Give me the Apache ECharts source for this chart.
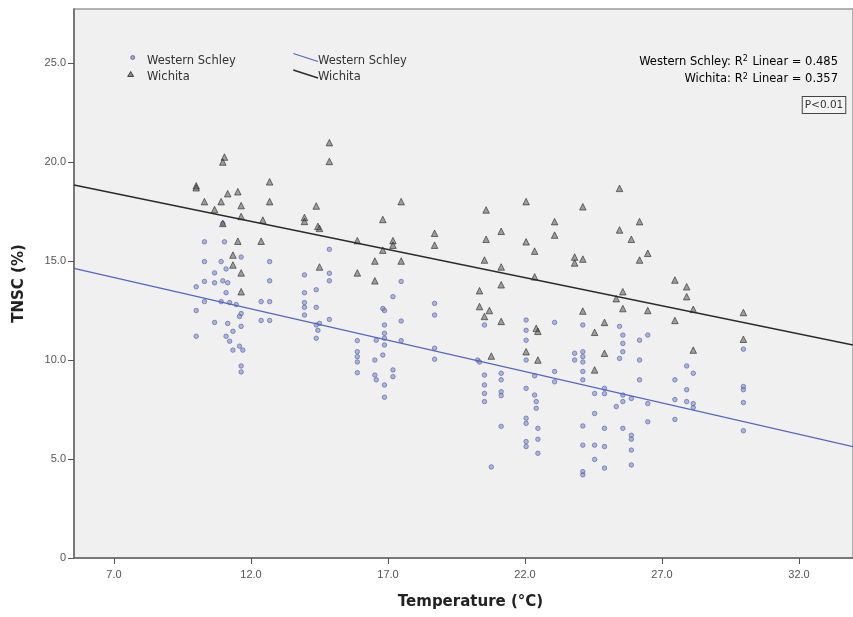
<!DOCTYPE html>
<html>
<head>
<meta charset="utf-8">
<script src="https://cdn.jsdelivr.net/npm/echarts@6/dist/echarts.min.js"></script>
<style>html,body{margin:0;padding:0;background:#fff}#c{width:853px;height:617px}</style>
</head>
<body>
<div id="c"></div>
<script>
// Western Schley: [temperature °C, TNSC %]
const westernSchley = [
 [10.30,15.97],[11.03,15.97],[11.64,15.2],[10.30,14.97],[10.91,14.97],[12.68,14.97],[10.67,14.4],[11.09,14.6],
 [10.00,13.7],[10.30,13.97],[10.67,13.9],[10.97,14.0],[11.15,13.9],[12.68,14.0],[11.09,13.4],[10.30,12.95],
 [10.91,12.95],[11.22,12.9],[11.46,12.8],[12.37,12.95],[12.68,12.95],[10.00,12.5],[11.58,12.2],[11.64,12.35],
 [12.37,12.0],[12.68,12.0],[10.67,11.9],[11.15,11.85],[11.64,11.7],[11.34,11.45],[10.00,11.2],[11.09,11.2],
 [11.22,10.95],[11.58,10.7],[11.70,10.5],[11.34,10.5],[11.64,9.7],[11.64,9.4],[10.97,16.9],
 [14.86,15.59],[13.95,14.3],[14.86,14.38],[14.86,14.0],[14.38,13.55],[13.95,13.4],[13.95,12.9],[13.95,12.66],
 [13.95,12.27],[14.38,12.66],[14.86,12.05],[14.38,11.77],[14.5,11.85],[14.44,11.5],[14.38,11.1],[17.48,13.97],
 [17.18,13.2],[16.81,12.6],[16.87,12.5],[18.70,12.86],[18.70,12.27],[17.48,11.97],[16.87,11.77],[16.87,11.35],
 [16.87,11.1],[16.57,11.0],[17.48,10.98],[15.88,10.98],[16.87,10.76],[18.70,10.6],[18.70,10.04],[15.88,10.42],
 [15.88,10.17],[15.88,9.9],[15.88,9.36],[16.52,10.0],[16.81,10.25],[16.52,9.24],[16.57,9.0],[17.18,9.5],
 [17.18,9.16],[16.87,8.74],[16.87,8.12],[20.27,10.0],
 [20.52,11.77],[24.11,11.77],[25.45,11.7],[25.57,11.26],[25.57,10.84],[25.57,10.42],[25.45,10.08],[26.48,11.26],
 [26.18,11.0],[26.18,10.0],[26.18,9.0],[22.04,12.02],[22.04,11.5],[23.08,11.9],[22.04,11.0],[22.04,10.0],
 [22.35,9.2],[22.04,8.57],[22.35,8.23],[22.41,7.9],[22.41,7.56],[22.04,7.06],[22.04,6.8],[22.47,6.55],
 [22.47,6.0],[22.04,5.88],[22.04,5.63],[22.47,5.29],[23.81,10.34],[23.81,10.0],[24.11,10.42],[24.11,10.17],
 [24.11,9.9],[24.11,9.42],[24.11,9.0],[23.08,9.42],[23.08,8.9],[24.54,8.31],[24.90,8.57],[24.90,8.3],
 [25.33,7.65],[25.57,7.9],[25.57,8.23],[25.88,8.06],[26.48,7.8],[26.48,6.88],[24.54,7.3],[24.11,6.67],
 [24.11,5.7],[24.54,5.7],[24.54,4.98],[24.90,6.55],[24.90,5.63],[24.90,4.54],[24.11,4.36],[24.11,4.2],
 [25.57,6.55],[25.88,6.2],[25.88,6.0],[25.88,5.45],[25.88,4.7],[21.13,6.65],[20.77,4.6],[20.34,9.9],
 [20.52,9.24],[20.52,8.74],[20.52,8.31],[20.52,7.9],[21.13,9.33],[21.13,9.0],[21.13,8.4],[21.13,8.2],
 [29.97,10.55],[27.9,9.7],[28.14,9.33],[27.47,9.0],[27.9,8.5],[27.47,8.0],[27.9,7.9],[28.14,7.8],
 [28.14,7.6],[27.47,7.0],[29.97,8.66],[29.97,8.5],[29.97,7.85],[29.97,6.43]
];
// Wichita: [temperature °C, TNSC %]
const wichita = [
 [11.03,20.25],[10.97,20.0],[10.00,18.8],[10.00,18.7],[12.68,19.0],[12.68,18.0],[11.52,18.5],[11.15,18.4],
 [10.30,18.0],[10.91,18.0],[10.67,17.6],[11.64,17.8],[11.64,17.25],[12.43,17.07],[10.97,16.9],[11.52,16.0],
 [12.37,16.0],[11.34,15.3],[11.34,14.8],[11.64,14.4],[11.64,13.45],
 [14.86,20.98],[14.86,20.03],[14.38,17.78],[13.95,17.2],[13.95,17.0],[14.44,16.75],[14.5,16.65],[17.48,18.0],
 [16.81,17.1],[17.18,16.03],[17.18,15.8],[16.81,15.55],[15.88,16.03],[18.70,16.4],[18.70,15.8],[14.50,14.7],
 [15.88,14.4],[16.52,15.0],[17.48,15.0],[16.52,14.0],
 [25.45,18.67],[22.04,18.0],[20.58,17.58],[24.11,17.74],[23.08,16.99],[23.08,16.31],[26.18,16.99],[25.45,16.57],
 [25.88,16.1],[26.48,15.39],[26.18,15.05],[21.13,16.5],[20.58,16.1],[22.04,15.97],[22.35,15.5],[20.52,15.05],
 [21.13,14.7],[22.35,14.2],[23.81,15.2],[24.11,15.1],[23.81,14.9],[21.13,13.8],[20.34,13.5],[25.57,13.45],
 [25.33,13.1],[25.57,12.6],[26.48,12.5],[20.34,12.7],[20.70,12.5],[20.52,12.2],[21.13,11.95],[24.11,12.47],
 [24.90,11.9],[24.54,11.4],[22.04,10.42],[22.41,11.6],[22.47,11.45],[22.47,10.0],[24.90,10.34],[24.54,9.5],
 [20.77,10.2],
 [27.47,14.04],[27.9,13.7],[27.9,13.2],[28.14,12.56],[27.47,12.0],[29.97,12.4],[29.97,11.05],[28.14,10.5]
];
// Linear fit lines: [temperature, TNSC] at the plot edges
const westernSchleyFit = [[5.54,14.63],[33.97,5.62]];
const wichitaFit = [[5.54,18.84],[33.97,10.76]];
const xTicks = [7,12,17,22,27,32];
const yTicks = [0,5,10,15,20,25];

const chart = echarts.init(document.getElementById('c'), null, {renderer:'canvas'});
const FONT = '"DejaVu Sans", "Liberation Sans", Arial, sans-serif';
const TICKFONT = '"Liberation Sans", Arial, sans-serif';
const SMALL = '11.5px ' + FONT;
const richA = {fontFamily:FONT,fontSize:11.5,color:'#333'};
const richS = {fontFamily:FONT,fontSize:8,color:'#333',verticalAlign:'top',padding:[0,1,6,0]};
chart.setOption({
  animation:false,
  backgroundColor:'#ffffff',
  grid:{left:74,right:0,top:9,bottom:59,show:true,backgroundColor:'#f0f0f0',borderColor:'#9a9a9a',borderWidth:1.5},
  xAxis:{
    type:'value',min:5.54,max:33.97,
    name:'Temperature (°C)',nameLocation:'middle',nameGap:37,
    nameTextStyle:{fontFamily:FONT,fontWeight:'bold',fontSize:15,color:'#222',padding:[0,0,0,14]},
    axisLine:{lineStyle:{color:'#666',width:1.5}},
    axisTick:{show:true,length:6,customValues:xTicks,lineStyle:{color:'#555'}},
    axisLabel:{customValues:xTicks,margin:11,fontFamily:TICKFONT,fontSize:11,color:'#555',formatter:v=>v.toFixed(1)},
    splitLine:{show:false}
  },
  yAxis:{
    type:'value',min:0,max:27.73,
    name:'TNSC (%)',nameLocation:'middle',nameGap:47,
    nameTextStyle:{fontFamily:FONT,fontWeight:'bold',fontSize:15,color:'#222'},
    axisLine:{show:true,lineStyle:{color:'#666',width:1.5}},
    axisTick:{show:true,length:6,customValues:yTicks,lineStyle:{color:'#555'}},
    axisLabel:{customValues:yTicks,margin:8,fontFamily:TICKFONT,fontSize:11,color:'#555',formatter:v=>v===0?'0':v.toFixed(1)},
    splitLine:{show:false}
  },
  series:[
    {name:'Western Schley',type:'scatter',data:westernSchley,symbol:'circle',symbolSize:4.5,
     itemStyle:{color:'rgba(110,125,200,0.65)',borderColor:'#5562aa',borderWidth:0.8}},
    {name:'Wichita',type:'scatter',data:wichita,symbol:'triangle',symbolSize:6.5,
     itemStyle:{color:'rgba(80,80,80,0.65)',borderColor:'#2a2a2a',borderWidth:0.8}},
    {name:'Western Schley fit',type:'line',data:westernSchleyFit,symbol:'none',silent:true,
     lineStyle:{color:'#5566c0',width:1.3}},
    {name:'Wichita fit',type:'line',data:wichitaFit,symbol:'none',silent:true,
     lineStyle:{color:'#2a2a2a',width:1.4}}
  ],
  graphic:[
    {type:'circle',shape:{cx:132.7,cy:57.5,r:2},style:{fill:'rgba(110,125,200,0.65)',stroke:'#5562aa',lineWidth:0.8}},
    {type:'polygon',shape:{points:[[130.7,71.5],[133.7,76.5],[127.7,76.5]]},style:{fill:'rgba(80,80,80,0.65)',stroke:'#2a2a2a',lineWidth:0.8}},
    {type:'text',style:{text:'Western Schley',x:147,y:61,verticalAlign:'middle',font:SMALL,fill:'#333'}},
    {type:'text',style:{text:'Wichita',x:147,y:77,verticalAlign:'middle',font:SMALL,fill:'#333'}},
    {type:'line',shape:{x1:293.3,y1:53.5,x2:318,y2:61.5},style:{stroke:'#5566c0',lineWidth:1.3}},
    {type:'line',shape:{x1:293.3,y1:70,x2:318,y2:78},style:{stroke:'#2a2a2a',lineWidth:1.4}},
    {type:'text',style:{text:'Western Schley',x:318,y:61,verticalAlign:'middle',font:SMALL,fill:'#333'}},
    {type:'text',style:{text:'Wichita',x:318,y:77,verticalAlign:'middle',font:SMALL,fill:'#333'}},
    {type:'text',style:{text:'{a|Western Schley: R}{s|2}{a| Linear = 0.485}',x:838,y:62,align:'right',verticalAlign:'middle',
      rich:{a:richA,s:richS}}},
    {type:'text',style:{text:'{a|Wichita: R}{s|2}{a| Linear = 0.357}',x:838,y:79.5,align:'right',verticalAlign:'middle',
      rich:{a:richA,s:richS}}},
    {type:'text',style:{text:'P<0.01',x:824,y:105,align:'center',verticalAlign:'middle',font:'10.5px '+FONT,fill:'#333',
      borderColor:'#444',borderWidth:1,padding:[3,2,2,2],backgroundColor:'#f4f4f4'}}
  ]
});
</script>
</body>
</html>
